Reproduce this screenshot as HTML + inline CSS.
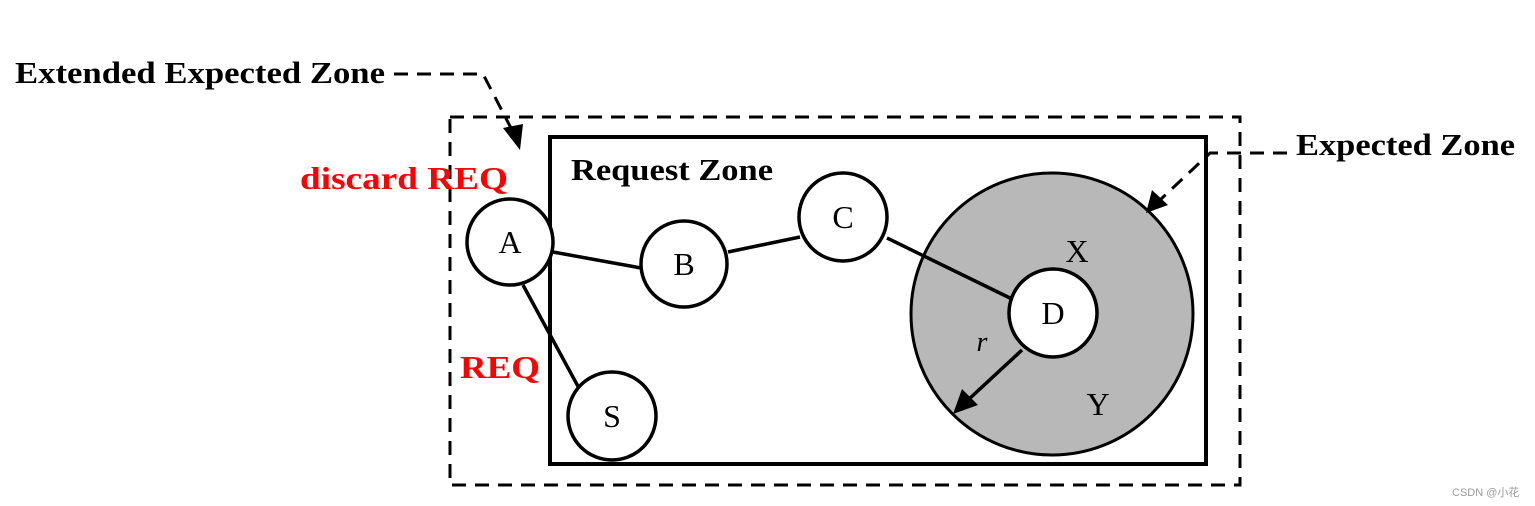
<!DOCTYPE html>
<html><head><meta charset="utf-8"><style>html,body{margin:0;padding:0;background:#fff}svg{display:block}</style></head><body>
<svg width="1535" height="506" viewBox="0 0 1535 506" xmlns="http://www.w3.org/2000/svg" font-family="Liberation Serif, serif">
<rect x="450" y="117" width="790" height="368" fill="none" stroke="#000" stroke-width="3" stroke-dasharray="14,9"/>
<rect x="550" y="137" width="656" height="327" fill="none" stroke="#000" stroke-width="4"/>
<circle cx="1052" cy="314" r="141" fill="#b8b8b8" stroke="#000" stroke-width="3"/>
<g stroke="#000" stroke-width="3.5">
<line x1="553" y1="252" x2="641" y2="268"/>
<line x1="728" y1="252" x2="800" y2="237"/>
<line x1="887" y1="238" x2="1012" y2="299"/>
<line x1="523" y1="285" x2="580" y2="390"/>
<line x1="1022" y1="350" x2="968" y2="400"/>
</g>
<polygon points="953,414 962,389 978,405" fill="#000"/>
<g fill="#fff" stroke="#000" stroke-width="3.5">
<circle cx="510" cy="242" r="43"/>
<circle cx="684" cy="264" r="43"/>
<circle cx="843" cy="217" r="44"/>
<circle cx="612" cy="416" r="44"/>
<circle cx="1053" cy="313" r="44"/>
</g>
<g font-size="32" text-anchor="middle">
<text x="510" y="253">A</text><text x="684" y="275">B</text><text x="843" y="228">C</text><text x="612" y="427">S</text><text x="1053" y="324">D</text>
<text x="1077" y="262">X</text><text x="1098" y="415">Y</text>
<text x="982" y="351" font-style="italic" font-size="28">r</text>
</g>
<g stroke="#000" stroke-width="3" fill="none" stroke-dasharray="14,9">
<polyline points="394,74 483,74 512,130"/>
<polyline points="1287,153 1210,153 1160,200"/>
</g>
<polygon points="520,150 503,128 523,124" fill="#000"/>
<polygon points="1146,213 1152,190 1168,205" fill="#000"/>
<g font-weight="bold" font-size="31" lengthAdjust="spacingAndGlyphs">
<text x="15" y="83" textLength="370" lengthAdjust="spacingAndGlyphs">Extended Expected Zone</text>
<text x="1296" y="155" textLength="219" lengthAdjust="spacingAndGlyphs">Expected Zone</text>
<text x="571" y="180" textLength="202" lengthAdjust="spacingAndGlyphs">Request Zone</text>
<text x="300" y="189" fill="#f00" font-size="32" textLength="208" lengthAdjust="spacingAndGlyphs">discard REQ</text>
<text x="460" y="378" fill="#f00" font-size="32" textLength="80" lengthAdjust="spacingAndGlyphs">REQ</text>
</g>
<text x="1452" y="496" font-family="Liberation Sans, Noto Sans CJK SC, sans-serif" font-size="11" fill="#999">CSDN @小花</text>
</svg>
</body></html>
